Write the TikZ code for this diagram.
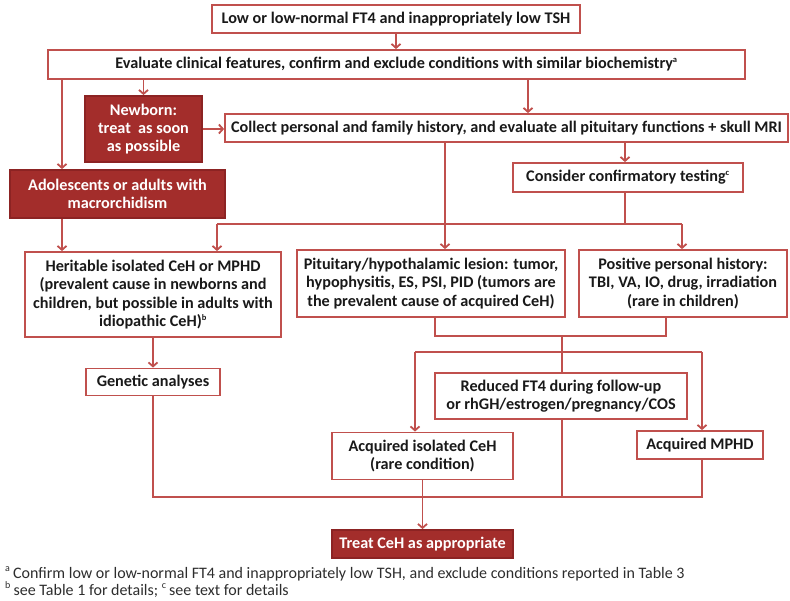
\documentclass[tikz,border=0pt]{standalone}
\usepackage{fontspec}
\setmainfont{Carlito}
\usetikzlibrary{arrows.meta}
\definecolor{edge}{RGB}{192,80,77}
\definecolor{darkfill}{RGB}{163,45,43}
\definecolor{darkedge}{RGB}{140,35,35}
\definecolor{txt}{RGB}{25,25,25}
\definecolor{fntxt}{RGB}{45,45,45}
\newcommand{\supsm}[1]{\textsuperscript{\fontsize{8.5}{8.5}\selectfont #1}}
\newcommand{\supfn}[1]{\textsuperscript{\fontsize{10}{10}\selectfont #1}}
\begin{document}
\begin{tikzpicture}[x=1pt,y=-1pt,
  box/.style={draw=edge, line width=1.8pt, fill=white, text=txt,
    font=\fontsize{16.2}{18.3}\selectfont\bfseries, align=center, inner sep=0pt},
  darkbox/.style={box, fill=darkfill, draw=darkedge, text=white},
  conn/.style={draw=edge, line width=1.8pt},
  arr/.style={conn, -{Straight Barb[length=4pt,width=9pt]}},
  fnote/.style={anchor=base west, inner sep=0pt, text=fntxt,
    font=\fontsize{16}{18}\selectfont}]
\useasboundingbox (0,0) rectangle (790,600);

% nodes
\node[box, minimum width=368pt, minimum height=28pt] (top) at (396,19)
  {Low or low-normal FT4 and inappropriately low TSH};
\node[box, minimum width=697pt, minimum height=29pt] (eval) at (396.5,64.5)
  {Evaluate clinical features, confirm and exclude conditions with similar biochemistry\supsm{a}};
\node[darkbox, minimum width=117pt, minimum height=66pt] (newborn) at (143.5,129)
  {Newborn:\\treat \ as soon\\as possible};
\node[box, minimum width=563pt, minimum height=28pt] (collect) at (506.5,128)
  {Collect personal and family history, and evaluate all pituitary functions + skull MRI};
\node[darkbox, minimum width=215pt, minimum height=48pt] (adol) at (117.5,194)
  {Adolescents or adults with\\macrorchidism};
\node[box, minimum width=230pt, minimum height=29pt] (consider) at (628,177.5)
  {Consider confirmatory testing\supsm{c}};
\node[box, minimum width=256pt, minimum height=85pt] (heritable) at (153,294.5)
  {Heritable isolated CeH or MPHD\\(prevalent cause in newborns and\\children, but possible in adults with\\idiopathic CeH)\supsm{b}};
\node[box, minimum width=268pt, minimum height=67pt] (pituitary) at (431,283.5)
  {Pituitary/hypothalamic lesion: tumor,\\hypophysitis, ES, PSI, PID (tumors are\\the prevalent cause of acquired CeH)};
\node[box, minimum width=208pt, minimum height=67pt] (positive) at (683,283.5)
  {Positive personal history:\\TBI, VA, IO, drug, irradiation\\(rare in children)};
\node[box, minimum width=134pt, minimum height=27pt] (genetic) at (153,382)
  {Genetic analyses};
\node[box, minimum width=252pt, minimum height=46pt] (reduced) at (561,396)
  {Reduced FT4 during follow-up\\or rhGH/estrogen/pregnancy/COS};
\node[box, minimum width=181pt, minimum height=47pt] (acqiso) at (422.5,456)
  {Acquired isolated CeH\\(rare condition)};
\node[box, minimum width=126pt, minimum height=28pt] (acqmphd) at (700,445)
  {Acquired MPHD};
\node[darkbox, minimum width=181pt, minimum height=28pt] (treat) at (422.5,544)
  {Treat CeH as appropriate};

% helper coordinates
\coordinate (xl) at (62,0);
\coordinate (xc) at (528,0);
\coordinate (xp) at (445,0);
\coordinate (xq) at (625,0);
\coordinate (hL) at (217,224);
\coordinate (hR) at (682,224);
\coordinate (hQ) at (625,224);
\coordinate (pL) at (435,336);
\coordinate (pR) at (666,336);
\coordinate (pM) at (562,336);
\coordinate (sM) at (562,352);
\coordinate (sL) at (415,352);
\coordinate (sR) at (702,352);
\coordinate (bL) at (153,497);
\coordinate (bR) at (702,497);
\coordinate (bM) at (562,497);

% connectors
\draw[arr] (top.south) -- (top.south |- eval.north);
\draw[arr] (eval.south -| newborn.north) -- (newborn.north);
\draw[arr] (eval.south -| xl) -- (adol.north -| xl);
\draw[arr] (eval.south -| xc) -- (collect.north -| xc);
\draw[arr] (newborn.east) -- (newborn.east -| collect.west);
\draw[arr] (adol.south -| xl) -- (heritable.north -| xl);
\draw[arr] (collect.south -| xp) -- (pituitary.north -| xp);
\draw[arr] (collect.south -| xq) -- (consider.north -| xq);
\draw[conn] (consider.south -| hQ) -- (hQ);
\draw[conn] (hL) -- (hR);
\draw[arr] (hL) -- (heritable.north -| hL);
\draw[arr] (hR) -- (positive.north -| hR);
\draw[conn] (pituitary.south -| pL) -- (pL) -- (pR) -- (positive.south -| pR);
\draw[conn] (pM) -- (reduced.north -| pM);
\draw[conn] (sL) -- (sR);
\draw[arr] (sL) -- (acqiso.north -| sL);
\draw[arr] (sR) -- (acqmphd.north -| sR);
\draw[arr] (heritable.south) -- (genetic.north);
\draw[conn] (genetic.south) -- (bL) -- (bR) -- (acqmphd.south -| bR);
\draw[conn] (reduced.south -| bM) -- (bM);
\draw[arr] (acqiso.south) -- (treat.north);

% footnotes
\node[fnote] (fn1) at (5,578) {\supfn{a}\,Confirm low or low-normal FT4 and inappropriately low TSH, and exclude conditions reported in Table 3};
\node[fnote] (fn2) at (5,595) {\supfn{b}\,see Table 1 for details; \supfn{c}\,see text for details};
\end{tikzpicture}
\end{document}
